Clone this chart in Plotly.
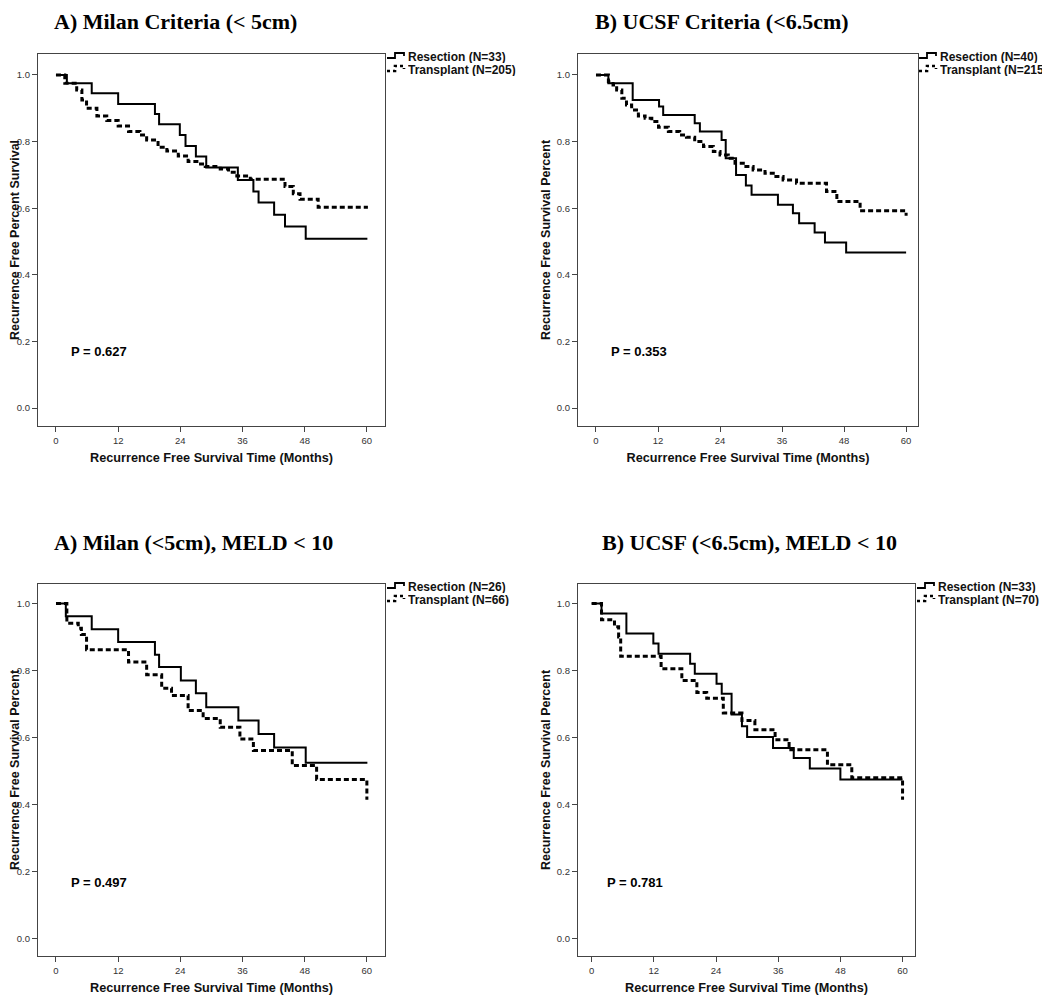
import plotly.graph_objects as go

# The page body has an 8px margin, so the figure is drawn 8px in from the corner.
OFF = 8
W, H = 1050 - OFF, 996 - OFF

# ---------------- data ----------------
titles = ["A) Milan Criteria (< 5cm)", "B) UCSF Criteria (<6.5cm)",
          "A) Milan (<5cm), MELD < 10", "B) UCSF (<6.5cm), MELD < 10"]
ytitles = ["Recurrence Free Percent Survival", "Recurrence Free Survival Percent",
           "Recurrence Free Survival Percent", "Recurrence Free Survival Percent"]
xtitle = "Recurrence Free Survival Time (Months)"
pvalues = ["P = 0.627", "P = 0.353", "P = 0.497", "P = 0.781"]
res_n = [33, 40, 26, 33]
tx_n = [205, 215, 66, 70]
xticks = [0, 12, 24, 36, 48, 60]
yticks = [0.0, 0.2, 0.4, 0.6, 0.8, 1.0]

# Panel 1: Milan criteria
p1_res_t = [0, 2.1, 6.9, 12.0, 19.1, 19.9, 23.9, 25.0, 27.0, 29.0, 35.1, 38.1, 39.1, 42.1, 44.2, 48.2, 60.1]
p1_res_s = [1.0, 0.975, 0.945, 0.913, 0.883, 0.852, 0.820, 0.787, 0.755, 0.722, 0.685, 0.650, 0.617, 0.580, 0.545, 0.508, 0.508]
p1_tx_t = [0, 1.7, 4.0, 5.0, 5.9, 7.9, 9.8, 12.0, 14.0, 16.2, 17.5, 19.7, 21.4, 23.6, 25.5, 27.2,
           28.8, 31.7, 33.3, 34.9, 37.5, 44.2, 45.8, 47.1, 50.6, 60.2]
p1_tx_s = [1.0, 0.975, 0.955, 0.925, 0.900, 0.877, 0.863, 0.847, 0.830, 0.820, 0.805, 0.783, 0.772, 0.757,
           0.740, 0.733, 0.725, 0.718, 0.708, 0.697, 0.687, 0.665, 0.643, 0.627, 0.603, 0.603]

# Panel 2: UCSF criteria
p2_res_t = [0, 2.4, 7.1, 12.2, 13.0, 19.1, 20.1, 24.3, 25.1, 27.1, 29.0, 30.1, 35.2, 38.1, 39.3, 42.3, 44.3, 48.4, 60.0]
p2_res_s = [1.0, 0.975, 0.925, 0.905, 0.880, 0.855, 0.830, 0.805, 0.750, 0.700, 0.668, 0.640, 0.610, 0.585,
            0.555, 0.527, 0.497, 0.467, 0.467]
p2_tx_t = [0, 2.4, 3.3, 4.0, 5.0, 5.9, 6.9, 8.2, 9.5, 10.8, 12.1, 14.0, 16.2, 17.5, 19.1, 20.8, 22.7, 24.0,
           25.6, 26.9, 28.5, 30.4, 32.7, 34.3, 36.2, 38.8, 44.6, 46.6, 51.1, 60.0]
p2_tx_s = [1.0, 0.980, 0.970, 0.955, 0.930, 0.910, 0.895, 0.877, 0.870, 0.860, 0.843, 0.830, 0.820, 0.813,
           0.800, 0.785, 0.770, 0.760, 0.750, 0.735, 0.725, 0.715, 0.705, 0.695, 0.685, 0.675, 0.650, 0.620,
           0.592, 0.577]

# Panel 3: Milan, MELD < 10
p3_res_t = [0, 1.9, 6.9, 12.0, 19.1, 19.9, 24.1, 27.0, 29.0, 35.2, 39.1, 42.1, 48.2, 60.1]
p3_res_s = [1.0, 0.962, 0.923, 0.885, 0.847, 0.810, 0.770, 0.732, 0.690, 0.650, 0.610, 0.570, 0.524, 0.524]
p3_tx_t = [0, 2.1, 4.3, 4.9, 5.9, 14.0, 17.5, 20.4, 22.3, 25.5, 28.4, 31.7, 35.5, 38.1, 45.6, 50.3, 60.0]
p3_tx_s = [1.0, 0.941, 0.926, 0.907, 0.862, 0.825, 0.787, 0.747, 0.725, 0.680, 0.656, 0.630, 0.595, 0.561,
           0.516, 0.474, 0.414]

# Panel 4: UCSF, MELD < 10
p4_res_t = [0, 1.9, 6.7, 11.9, 12.9, 19.0, 19.9, 24.1, 25.1, 27.0, 29.0, 30.0, 35.0, 39.0, 42.1, 48.0, 60.0]
p4_res_s = [1.0, 0.970, 0.910, 0.880, 0.850, 0.820, 0.790, 0.760, 0.730, 0.668, 0.633, 0.601, 0.568, 0.538,
            0.507, 0.474, 0.474]
p4_tx_t = [0, 1.9, 4.4, 5.2, 5.6, 13.4, 17.4, 20.3, 22.2, 25.4, 29.0, 31.5, 35.4, 38.1, 45.5, 50.2, 60.0]
p4_tx_s = [1.0, 0.951, 0.930, 0.900, 0.842, 0.805, 0.770, 0.734, 0.717, 0.673, 0.650, 0.623, 0.593, 0.563,
           0.518, 0.479, 0.414]

res_t = [p1_res_t, p2_res_t, p3_res_t, p4_res_t]
res_s = [p1_res_s, p2_res_s, p3_res_s, p4_res_s]
tx_t = [p1_tx_t, p2_tx_t, p3_tx_t, p4_tx_t]
tx_s = [p1_tx_s, p2_tx_s, p3_tx_s, p4_tx_s]

# ---------------- layout (screen pixel boxes) ----------------
boxes = [(38, 385, 54, 426), (578, 918, 54, 426), (38, 385, 584, 956), (578, 915, 584, 956)]
xranges = [(-3.47, 63.5), (-3.48, 62.3), (-3.47, 63.5), (-2.64, 62.4)]
yranges = [(-0.054, 1.063), (-0.054, 1.063), (-0.053, 1.058), (-0.053, 1.058)]
title_pos = [(52, 21), (593, 21), (52, 542), (600, 542)]
legend_pos = [(387, 57), (919, 57), (387, 587), (917, 587)]
p_pos = [(2.6, 0.17), (2.6, 0.17), (2.6, 0.166), (2.6, 0.166)]

FONT = "Liberation Sans, Arial, sans-serif"
SERIF = "Liberation Serif, Times New Roman, serif"


def px(x):
    return (x - OFF) / W


def py(y):
    return 1 - (y - OFF) / H


fig = go.Figure()
shapes = []
annotations = []

for i in range(4):
    ax = "" if i == 0 else str(i + 1)
    xa, ya = "x" + ax, "y" + ax
    fig.add_trace(go.Scatter(x=res_t[i], y=res_s[i], mode="lines", line_shape="hv",
                             line=dict(color="black", width=2), xaxis=xa, yaxis=ya,
                             name=f"Resection (N={res_n[i]})", showlegend=False))
    fig.add_trace(go.Scatter(x=tx_t[i], y=tx_s[i], mode="lines", line_shape="hv",
                             line=dict(color="black", width=3, dash="5px,3px"), xaxis=xa, yaxis=ya,
                             name=f"Transplant (N={tx_n[i]})", showlegend=False))
    l, r, t, b = boxes[i]
    axis_common = dict(showline=True, mirror=True, linecolor="#444", linewidth=1.3,
                       ticks="outside", ticklen=5, tickcolor="#444", showgrid=False, zeroline=False,
                       automargin=False,
                       tickfont=dict(family=FONT, size=9.5, color="#333"))
    fig.update_layout(**{
        "xaxis" + ax: dict(domain=[px(l), px(r)], range=list(xranges[i]), tickvals=xticks,
                           anchor=ya,
                           title=dict(text="<b>" + xtitle + "</b>", standoff=8,
                                      font=dict(family=FONT, size=12.7, color="#111")),
                           **axis_common),
        "yaxis" + ax: dict(domain=[py(b), py(t)], range=list(yranges[i]), tickvals=yticks,
                           tickformat=".1f", anchor=xa,
                           title=dict(text="<b>" + ytitles[i] + "</b>", standoff=3,
                                      font=dict(family=FONT, size=12.5, color="#111")),
                           **axis_common),
    })
    # panel title
    tx, ty = title_pos[i]
    annotations.append(dict(text="<b>" + titles[i] + "</b>", xref="paper", yref="paper",
                            x=px(tx), y=py(ty), xanchor="left", yanchor="middle", showarrow=False,
                            font=dict(family=SERIF, size=22, color="black")))
    # p-value
    annotations.append(dict(text="<b>" + pvalues[i] + "</b>", xref=xa, yref=ya,
                            x=p_pos[i][0], y=p_pos[i][1], xanchor="left", yanchor="middle",
                            showarrow=False, font=dict(family=FONT, size=13, color="black")))
    # legend (step glyphs + labels)
    lx, ly = legend_pos[i]
    for k, (label, dash, width) in enumerate([(f"Resection (N={res_n[i]})", "solid", 1.8),
                                              (f"Transplant (N={tx_n[i]})", "dot", 2.6)]):
        c = ly + k * 13
        path = (f"M {px(lx)},{py(c + 1)} L {px(lx + 8)},{py(c + 1)} L {px(lx + 8)},{py(c - 4)} "
                f"L {px(lx + 17)},{py(c - 4)} L {px(lx + 17)},{py(c - 1)}")
        shapes.append(dict(type="path", path=path, xref="paper", yref="paper",
                           line=dict(color="black", width=width, dash=dash)))
        annotations.append(dict(text="<b>" + label + "</b>", xref="paper", yref="paper",
                                x=px(lx + 20), y=py(c), xanchor="left", yanchor="middle",
                                height=12, borderpad=0, valign="middle",
                                showarrow=False, font=dict(family=FONT, size=12, color="#111")))

fig.update_layout(width=W, height=H, margin=dict(l=0, r=0, t=0, b=0),
                  paper_bgcolor="white", plot_bgcolor="white", showlegend=False,
                  shapes=shapes, annotations=annotations)

fig.write_html("out.html")
